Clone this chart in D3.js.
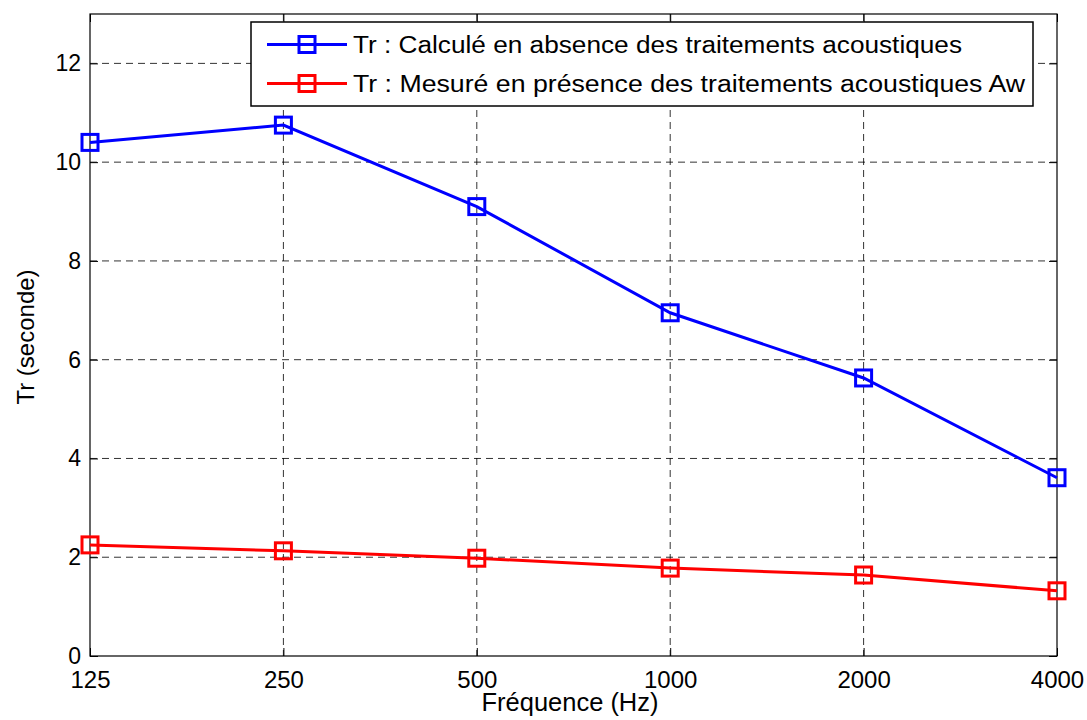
<!DOCTYPE html>
<html><head><meta charset="utf-8">
<script src="https://cdn.jsdelivr.net/npm/d3@7"></script>
<style>body{margin:0;background:#fff}svg{display:block}text{font-family:"Liberation Sans",Arial,sans-serif}</style>
</head><body>
<svg id="c" width="1087" height="720"></svg>
<script>
const categories = ["125","250","500","1000","2000","4000"];
const seriesNames = ["Tr : Calculé en absence des traitements acoustiques","Tr : Mesuré en présence des traitements acoustiques Aw"];
const calcValues = [10.4, 10.75, 9.1, 6.95, 5.63, 3.61];
const mesValues = [2.25, 2.13, 1.98, 1.78, 1.64, 1.32];
const yTicks = [0,2,4,6,8,10,12];
const colors = ["#0000ff","#ff0000"];

const svg = d3.select("#c");
const L=90,R=1057,T=14,B=656;
const x = d3.scalePoint().domain(categories).range([L,R]);
const y = d3.scaleLinear().domain([0,13]).range([B,T]);

// grid
const g = svg.append("g");
g.selectAll(".gx").data(categories.slice(1,-1)).enter().append("line")
 .attr("x1",d=>x(d)).attr("x2",d=>x(d)).attr("y1",T).attr("y2",B)
 .attr("stroke","#000").attr("stroke-width",1).attr("stroke-dasharray","7,5").attr("opacity",0.8);
g.selectAll(".gy").data(yTicks.slice(1)).enter().append("line")
 .attr("x1",L).attr("x2",R).attr("y1",d=>y(d)).attr("y2",d=>y(d))
 .attr("stroke","#000").attr("stroke-width",1).attr("stroke-dasharray","7,5").attr("opacity",0.8);

// axes
const xa = svg.append("g").attr("transform",`translate(0,${B})`)
 .call(d3.axisBottom(x).tickSize(-8).tickPadding(15));
const xt = svg.append("g").attr("transform",`translate(0,${T})`)
 .call(d3.axisTop(x).tickSize(-8).tickFormat(""));
const ya = svg.append("g").attr("transform",`translate(${L},0)`)
 .call(d3.axisLeft(y).tickValues(yTicks).tickSize(-8).tickPadding(9));
const yr = svg.append("g").attr("transform",`translate(${R},0)`)
 .call(d3.axisRight(y).tickValues(yTicks).tickSize(-8).tickFormat(""));
[xa,xt,ya,yr].forEach(a=>{
  a.select(".domain").remove();
  a.selectAll("line").attr("stroke","#000");
  a.selectAll("text").attr("fill","#000").style("font-family","'Liberation Sans',Arial,sans-serif");
});
xa.selectAll("text").attr("font-size",24);
ya.selectAll("text").attr("font-size",23);
svg.append("rect").attr("x",L).attr("y",T).attr("width",R-L).attr("height",B-T)
 .attr("fill","none").attr("stroke","#000").attr("stroke-width",1.2);

// series
const line = d3.line().x((d,i)=>x(categories[i])).y(d=>y(d));
[calcValues,mesValues].forEach((vals,k)=>{
  svg.append("path").datum(vals).attr("d",line).attr("fill","none")
   .attr("stroke",colors[k]).attr("stroke-width",3);
  svg.selectAll(".m"+k).data(vals).enter().append("rect")
   .attr("x",(d,i)=>x(categories[i])-8).attr("y",d=>y(d)-8)
   .attr("width",16).attr("height",16).attr("fill","none")
   .attr("stroke",colors[k]).attr("stroke-width",3);
});

// legend
const lg = svg.append("g");
lg.append("rect").attr("x",251).attr("y",22).attr("width",782).attr("height",84)
 .attr("fill","#fff").attr("stroke","#000").attr("stroke-width",1.5);
const legendLens = [609, 672];
seriesNames.forEach((n,k)=>{
  const yy = 44.5 + k*39;
  lg.append("line").attr("x1",267).attr("x2",347).attr("y1",yy).attr("y2",yy)
   .attr("stroke",colors[k]).attr("stroke-width",3);
  lg.append("rect").attr("x",299).attr("y",yy-8).attr("width",16).attr("height",16)
   .attr("fill","none").attr("stroke",colors[k]).attr("stroke-width",3);
  lg.append("text").attr("x",353).attr("y",yy+8).attr("font-size",23)
   .attr("textLength",legendLens[k]).attr("lengthAdjust","spacingAndGlyphs").text(n);
});

// axis titles
svg.append("text").attr("x",570).attr("y",711).attr("text-anchor","middle")
 .attr("font-size",25).attr("textLength",177).attr("lengthAdjust","spacingAndGlyphs").text("Fréquence (Hz)");
svg.append("text").attr("transform",`translate(34,337) rotate(-90)`)
 .attr("text-anchor","middle").attr("font-size",24).text("Tr (seconde)");
</script>
</body></html>
